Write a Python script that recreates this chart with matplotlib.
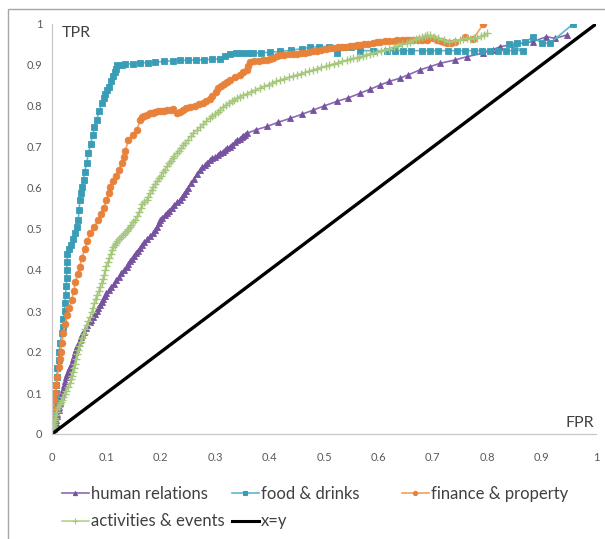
import matplotlib
matplotlib.use("Agg")
import matplotlib.pyplot as plt
from matplotlib.lines import Line2D
from matplotlib.patches import Rectangle

plt.rcParams['font.family'] = ['Lato', 'DejaVu Sans']

# ROC points, as (FPR, TPR)
hr_points = [
    (0, 0), (0.002, 0.006), (0.004, 0.012), (0.006, 0.018), (0.007, 0.027), (0.008, 0.035),
    (0.009, 0.043), (0.010, 0.050), (0.012, 0.058), (0.013, 0.066), (0.014, 0.075), (0.015, 0.083),
    (0.017, 0.092), (0.018, 0.100), (0.020, 0.110), (0.022, 0.120), (0.024, 0.130), (0.026, 0.140),
    (0.028, 0.146), (0.030, 0.152), (0.032, 0.158), (0.033, 0.164), (0.036, 0.173), (0.038, 0.182),
    (0.040, 0.191), (0.042, 0.200), (0.044, 0.207), (0.046, 0.214), (0.049, 0.222), (0.051, 0.229),
    (0.054, 0.236), (0.056, 0.243), (0.059, 0.250), (0.062, 0.258), (0.065, 0.265), (0.069, 0.272),
    (0.072, 0.279), (0.076, 0.286), (0.079, 0.293), (0.082, 0.300), (0.085, 0.308), (0.088, 0.315),
    (0.091, 0.322), (0.094, 0.329), (0.097, 0.336), (0.100, 0.343), (0.105, 0.351), (0.109, 0.359),
    (0.114, 0.367), (0.118, 0.375), (0.123, 0.384), (0.127, 0.392), (0.132, 0.400), (0.137, 0.408),
    (0.140, 0.415), (0.143, 0.421), (0.147, 0.428), (0.150, 0.435), (0.154, 0.441), (0.158, 0.447),
    (0.162, 0.454), (0.165, 0.460), (0.170, 0.468), (0.175, 0.475), (0.181, 0.483), (0.186, 0.490),
    (0.190, 0.498), (0.193, 0.506), (0.196, 0.514), (0.199, 0.522), (0.203, 0.528), (0.207, 0.533),
    (0.211, 0.539), (0.215, 0.545), (0.220, 0.552), (0.225, 0.558), (0.230, 0.565), (0.235, 0.571),
    (0.239, 0.578), (0.243, 0.585), (0.247, 0.593), (0.250, 0.600), (0.255, 0.611), (0.261, 0.622),
    (0.266, 0.633), (0.272, 0.644), (0.276, 0.650), (0.281, 0.656), (0.285, 0.662), (0.290, 0.668),
    (0.295, 0.672), (0.300, 0.676), (0.305, 0.681), (0.309, 0.685), (0.314, 0.689), (0.318, 0.693),
    (0.322, 0.697), (0.327, 0.701), (0.331, 0.706), (0.336, 0.711), (0.340, 0.716), (0.345, 0.720),
    (0.349, 0.724), (0.352, 0.727), (0.355, 0.730), (0.358, 0.733), (0.375, 0.742), (0.395, 0.750),
    (0.415, 0.760), (0.438, 0.770), (0.460, 0.780), (0.480, 0.790), (0.500, 0.800), (0.523, 0.811),
    (0.545, 0.820), (0.566, 0.831), (0.585, 0.841), (0.603, 0.851), (0.620, 0.860), (0.640, 0.868),
    (0.655, 0.876), (0.676, 0.888), (0.695, 0.896), (0.713, 0.904), (0.740, 0.912), (0.762, 0.920),
    (0.793, 0.929), (0.810, 0.937), (0.824, 0.945), (0.850, 0.950), (0.884, 0.957), (0.909, 0.969),
    (0.925, 0.965), (0.946, 0.973),
]

food_points = [
    (0, 0), (0.001, 0.015), (0.002, 0.030), (0.003, 0.045), (0.004, 0.060), (0.005, 0.072),
    (0.006, 0.083), (0.007, 0.100), (0.008, 0.120), (0.009, 0.140), (0.010, 0.160), (0.012, 0.180),
    (0.013, 0.200), (0.015, 0.222), (0.018, 0.246), (0.020, 0.262), (0.021, 0.280), (0.023, 0.300),
    (0.024, 0.320), (0.025, 0.340), (0.026, 0.360), (0.027, 0.380), (0.027, 0.400), (0.028, 0.420),
    (0.028, 0.440), (0.031, 0.450), (0.035, 0.460), (0.039, 0.475), (0.042, 0.490), (0.046, 0.506),
    (0.048, 0.522), (0.050, 0.546), (0.051, 0.571), (0.053, 0.587), (0.055, 0.603), (0.058, 0.620),
    (0.060, 0.640), (0.064, 0.662), (0.067, 0.685), (0.071, 0.707), (0.075, 0.730), (0.078, 0.748),
    (0.082, 0.766), (0.087, 0.787), (0.091, 0.807), (0.095, 0.820), (0.098, 0.830), (0.101, 0.838),
    (0.104, 0.847), (0.108, 0.860), (0.113, 0.872), (0.116, 0.882), (0.118, 0.890), (0.120, 0.900),
    (0.128, 0.901), (0.135, 0.902), (0.148, 0.903), (0.162, 0.905), (0.176, 0.906), (0.190, 0.907),
    (0.206, 0.909), (0.222, 0.910), (0.236, 0.911), (0.250, 0.912), (0.265, 0.912), (0.280, 0.913),
    (0.295, 0.914), (0.309, 0.915), (0.318, 0.922), (0.327, 0.928), (0.338, 0.929), (0.350, 0.929),
    (0.360, 0.929), (0.370, 0.929), (0.385, 0.930), (0.400, 0.931), (0.419, 0.933), (0.440, 0.936),
    (0.460, 0.940), (0.475, 0.943), (0.490, 0.945), (0.510, 0.945), (0.523, 0.930), (0.535, 0.945),
    (0.550, 0.945), (0.566, 0.935), (0.590, 0.935), (0.615, 0.935), (0.630, 0.935), (0.645, 0.935),
    (0.660, 0.935), (0.680, 0.935), (0.695, 0.935), (0.710, 0.935), (0.728, 0.935), (0.745, 0.935),
    (0.760, 0.935), (0.775, 0.935), (0.790, 0.935), (0.805, 0.935), (0.820, 0.935), (0.835, 0.935),
    (0.850, 0.935), (0.866, 0.935), (0.840, 0.950), (0.855, 0.953), (0.870, 0.955), (0.884, 0.969),
    (0.900, 0.953), (0.915, 0.953), (0.958, 1.000),
]

fin_points = [
    (0, 0), (0.001, 0.020), (0.002, 0.040), (0.003, 0.060), (0.004, 0.083), (0.006, 0.100),
    (0.008, 0.120), (0.010, 0.140), (0.012, 0.164), (0.014, 0.182), (0.016, 0.200), (0.018, 0.222),
    (0.021, 0.246), (0.024, 0.268), (0.028, 0.290), (0.032, 0.308), (0.036, 0.327), (0.040, 0.350),
    (0.043, 0.370), (0.047, 0.390), (0.051, 0.408), (0.055, 0.430), (0.060, 0.450), (0.065, 0.470),
    (0.070, 0.490), (0.078, 0.506), (0.085, 0.522), (0.090, 0.536), (0.095, 0.550), (0.100, 0.571),
    (0.104, 0.587), (0.107, 0.603), (0.112, 0.617), (0.118, 0.630), (0.123, 0.645), (0.128, 0.660),
    (0.132, 0.675), (0.135, 0.690), (0.140, 0.717), (0.148, 0.730), (0.156, 0.741), (0.162, 0.766),
    (0.166, 0.772), (0.170, 0.776), (0.175, 0.779), (0.180, 0.782), (0.185, 0.784), (0.190, 0.786),
    (0.195, 0.787), (0.200, 0.788), (0.206, 0.789), (0.212, 0.790), (0.218, 0.791), (0.223, 0.792),
    (0.229, 0.782), (0.235, 0.786), (0.240, 0.790), (0.247, 0.794), (0.254, 0.798), (0.262, 0.801),
    (0.270, 0.805), (0.277, 0.808), (0.284, 0.811), (0.290, 0.818), (0.295, 0.825), (0.301, 0.834),
    (0.306, 0.843), (0.311, 0.848), (0.316, 0.853), (0.322, 0.858), (0.327, 0.863), (0.336, 0.870),
    (0.345, 0.876), (0.352, 0.882), (0.358, 0.888), (0.361, 0.898), (0.364, 0.908), (0.372, 0.909),
    (0.380, 0.910), (0.388, 0.911), (0.395, 0.912), (0.401, 0.915), (0.407, 0.918), (0.413, 0.921),
    (0.419, 0.924), (0.427, 0.925), (0.435, 0.926), (0.443, 0.927), (0.450, 0.928), (0.458, 0.929),
    (0.465, 0.930), (0.472, 0.932), (0.480, 0.933), (0.488, 0.935), (0.495, 0.937), (0.503, 0.939),
    (0.511, 0.941), (0.518, 0.942), (0.525, 0.943), (0.533, 0.944), (0.540, 0.945), (0.547, 0.946),
    (0.553, 0.947), (0.560, 0.948), (0.566, 0.949), (0.573, 0.950), (0.580, 0.951), (0.590, 0.953),
    (0.597, 0.955), (0.603, 0.957), (0.612, 0.958), (0.620, 0.958), (0.628, 0.959), (0.635, 0.960),
    (0.643, 0.960), (0.650, 0.961), (0.657, 0.961), (0.664, 0.961), (0.672, 0.962), (0.680, 0.962),
    (0.690, 0.962), (0.700, 0.965), (0.708, 0.961), (0.715, 0.958), (0.720, 0.955), (0.726, 0.953),
    (0.733, 0.954), (0.740, 0.955), (0.759, 0.968), (0.774, 0.963), (0.793, 1.000),
]

act_points = [
    (0, 0), (0.001, 0.005), (0.001, 0.010), (0.002, 0.015), (0.002, 0.020), (0.003, 0.025),
    (0.004, 0.030), (0.005, 0.035), (0.006, 0.040), (0.007, 0.047), (0.009, 0.054), (0.010, 0.060),
    (0.012, 0.067), (0.014, 0.073), (0.016, 0.078), (0.018, 0.084), (0.020, 0.090), (0.023, 0.098),
    (0.026, 0.106), (0.029, 0.115), (0.033, 0.124), (0.035, 0.133), (0.036, 0.142), (0.038, 0.151),
    (0.040, 0.160), (0.042, 0.171), (0.044, 0.183), (0.046, 0.194), (0.048, 0.205), (0.050, 0.215),
    (0.053, 0.225), (0.055, 0.235), (0.058, 0.245), (0.061, 0.256), (0.064, 0.266), (0.067, 0.276),
    (0.070, 0.286), (0.073, 0.297), (0.075, 0.308), (0.078, 0.319), (0.080, 0.330), (0.083, 0.340),
    (0.086, 0.349), (0.088, 0.358), (0.091, 0.368), (0.093, 0.378), (0.096, 0.389), (0.098, 0.400),
    (0.100, 0.410), (0.103, 0.420), (0.105, 0.430), (0.108, 0.440), (0.110, 0.449), (0.113, 0.455),
    (0.115, 0.460), (0.118, 0.465), (0.120, 0.470), (0.124, 0.475), (0.127, 0.480), (0.131, 0.485),
    (0.134, 0.490), (0.137, 0.495), (0.140, 0.500), (0.143, 0.505), (0.145, 0.510), (0.149, 0.516),
    (0.153, 0.522), (0.157, 0.531), (0.160, 0.541), (0.163, 0.550), (0.165, 0.560), (0.170, 0.566),
    (0.174, 0.571), (0.177, 0.579), (0.180, 0.587), (0.183, 0.595), (0.186, 0.603), (0.190, 0.610),
    (0.193, 0.617), (0.197, 0.624), (0.200, 0.630), (0.204, 0.638), (0.207, 0.645), (0.211, 0.653),
    (0.215, 0.660), (0.218, 0.666), (0.222, 0.672), (0.225, 0.679), (0.229, 0.685), (0.233, 0.691),
    (0.237, 0.698), (0.241, 0.704), (0.245, 0.710), (0.250, 0.718), (0.255, 0.726), (0.260, 0.734),
    (0.266, 0.741), (0.272, 0.748), (0.278, 0.756), (0.284, 0.763), (0.290, 0.770), (0.295, 0.775),
    (0.300, 0.780), (0.305, 0.785), (0.309, 0.790), (0.315, 0.798), (0.320, 0.803), (0.325, 0.807),
    (0.330, 0.811), (0.335, 0.815), (0.340, 0.819), (0.346, 0.823), (0.352, 0.827), (0.358, 0.830),
    (0.366, 0.835), (0.374, 0.839), (0.382, 0.844), (0.390, 0.848), (0.398, 0.852), (0.405, 0.856),
    (0.412, 0.860), (0.419, 0.863), (0.427, 0.867), (0.435, 0.870), (0.443, 0.873), (0.450, 0.876),
    (0.458, 0.879), (0.465, 0.882), (0.472, 0.885), (0.480, 0.888), (0.488, 0.891), (0.495, 0.894),
    (0.503, 0.897), (0.510, 0.900), (0.518, 0.903), (0.526, 0.906), (0.534, 0.909), (0.542, 0.912),
    (0.548, 0.914), (0.554, 0.916), (0.560, 0.918), (0.565, 0.920), (0.572, 0.923), (0.578, 0.925),
    (0.584, 0.927), (0.590, 0.929), (0.598, 0.932), (0.605, 0.935), (0.612, 0.937), (0.620, 0.940),
    (0.628, 0.944), (0.636, 0.947), (0.644, 0.950), (0.652, 0.953), (0.658, 0.957), (0.664, 0.960),
    (0.670, 0.963), (0.675, 0.965), (0.680, 0.968), (0.685, 0.970), (0.690, 0.972), (0.695, 0.973),
    (0.702, 0.969), (0.710, 0.965), (0.720, 0.960), (0.730, 0.956), (0.740, 0.959), (0.750, 0.962),
    (0.756, 0.963), (0.762, 0.965), (0.768, 0.964), (0.775, 0.965), (0.782, 0.967), (0.788, 0.970),
    (0.794, 0.973), (0.800, 0.977),
]

diag = [0, 1]

labels = ['human relations', 'food & drinks', 'finance & property', 'activities & events', 'x=y']
ticks = [0, 0.1, 0.2, 0.3, 0.4, 0.5, 0.6, 0.7, 0.8, 0.9, 1]
tick_labels = ['0', '0.1', '0.2', '0.3', '0.4', '0.5', '0.6', '0.7', '0.8', '0.9', '1']

hr_fpr, hr_tpr = zip(*hr_points)
food_fpr, food_tpr = zip(*food_points)
fin_fpr, fin_tpr = zip(*fin_points)
act_fpr, act_tpr = zip(*act_points)

c_hr, c_hr_l = '#7652A0', '#8A6CB3'
c_food, c_food_l = '#3A9DB6', '#5BB8D0'
c_fin, c_fin_l = '#E8813A', '#F4A064'
c_act, c_act_l = '#A5C77C', '#B5D394'

W, H = 605, 539
fig = plt.figure(figsize=(W / 100, H / 100), dpi=100)
ax = fig.add_axes([52 / W, (H - 434) / H, 544 / W, 410 / H])

ax.plot(hr_fpr, hr_tpr, color=c_hr_l, lw=1.2, marker='^', ms=4.8, mfc=c_hr, mec=c_hr, mew=0.6)
ax.plot(food_fpr, food_tpr, color=c_food_l, lw=1.2, marker='s', ms=4.5, mfc=c_food, mec=c_food, mew=0.6)
ax.plot(fin_fpr, fin_tpr, color=c_fin_l, lw=1.2, marker='o', ms=4.8, mfc=c_fin, mec=c_fin, mew=0.6)
ax.plot(act_fpr, act_tpr, color=c_act_l, lw=1.2, marker='+', ms=5.5, mec=c_act, mew=1.0)
ax.plot(diag, diag, color='black', lw=2.4, solid_capstyle='round')

ax.set_xlim(0, 1)
ax.set_ylim(0, 1)
ax.set_xticks(ticks)
ax.set_xticklabels(tick_labels)
ax.set_yticks(ticks)
ax.set_yticklabels(tick_labels)
ax.tick_params(axis='both', length=0, labelsize=8, colors='#595959')
ax.tick_params(axis='x', pad=13)
ax.tick_params(axis='y', pad=7)
for s in ['top', 'right']:
    ax.spines[s].set_visible(False)
for s in ['left', 'bottom']:
    ax.spines[s].set_color('#C8C8C8')
    ax.spines[s].set_linewidth(0.9)

ax.text(0.018, 0.978, 'TPR', transform=ax.transAxes, fontsize=11.5,
        color='#404040', va='center', ha='left')
ax.text(0.996, 0.027, 'FPR', transform=ax.transAxes, fontsize=11.5,
        color='#404040', va='center', ha='right')

# legend: three columns placed like the original
def handle(col_l, col, m, ms):
    return Line2D([], [], color=col_l, lw=1.2, marker=m, ms=ms, mfc=col, mec=col, mew=0.8)

h_hr = handle(c_hr_l, c_hr, '^', 3)
h_food = handle(c_food_l, c_food, 's', 3)
h_fin = handle(c_fin_l, c_fin, 'o', 3)
h_act = handle(c_act_l, c_act, '+', 4)
h_diag = Line2D([], [], color='black', lw=2.2)

cols = [([h_hr, h_act], [labels[0], labels[3]], 62),
        ([h_food, h_diag], [labels[1], labels[4]], 232),
        ([h_fin], [labels[2]], 402)]
for hs, ls, px in cols:
    fig.legend(hs, ls, loc='upper left', bbox_to_anchor=(px / W, (H - 486) / H),
               frameon=False, fontsize=12, handlelength=1.6, handletextpad=0.15,
               borderpad=0, borderaxespad=0, labelspacing=0.68, labelcolor='#404040')

fig.add_artist(Rectangle((8 / W, -0.1), 1.2, (H - 9) / H + 0.1, transform=fig.transFigure,
                         fill=False, edgecolor='#A6A6A6', lw=1.0))

fig.savefig('out.png', dpi=100)
